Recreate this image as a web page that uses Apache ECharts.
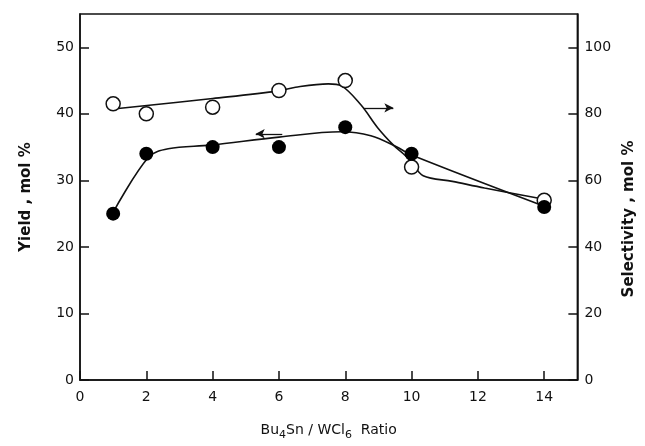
<!DOCTYPE html>
<html>
<head>
<meta charset="utf-8">
<script src="https://cdn.jsdelivr.net/npm/echarts@6/dist/echarts.min.js"></script>
<style>html,body{margin:0;padding:0;background:#fff}#c{width:645px;height:446px}</style>
</head>
<body>
<div id="c"></div>
<script>
// Data
var ratios = [1, 2, 4, 6, 8, 10, 14];
var yieldValues = [25, 34, 35, 35, 38, 34, 26];           // filled circles, left axis (mol %)
var selectivityValues = [83, 80, 82, 87, 90, 64, 54];    // open circles, right axis (mol %)

// Hand-drawn curves: [ratio, value]
var yieldCurve = [[1, 25.2], [2.07, 33.5], [2.66, 34.75], [3.94, 35.3], [6.0, 36.5], [7.88, 37.3], [8.77, 36.7], [9.56, 35.0], [10, 33.8], [14, 26.1]];
var selectivityCurve = [[1.15, 81.6], [4, 84.6], [6, 86.9], [6.5, 88.0], [7.49, 89.0], [7.88, 88.4], [8.47, 82.7], [8.97, 75.9], [9.46, 70.5], [9.75, 68.0], [10.0, 65.5], [10.35, 61.4], [11.23, 59.7], [12.2, 57.7], [14, 54.3]];

// Arrows marking which axis each curve belongs to
var yieldArrow = [[6.1, 37], [5.3, 37]];
var selectivityArrow = [[8.55, 81.8], [9.45, 81.8]];

var xTicks = [0, 2, 4, 6, 8, 10, 12, 14];
var yieldTicks = [0, 10, 20, 30, 40, 50];
var selTicks = [0, 20, 40, 60, 80, 100];

var font = 'DejaVu Sans';
var ink = '#111';

var option = {
  animation: false,
  backgroundColor: '#fff',
  grid: { left: 80, right: 57, top: 14, bottom: 58, show: true, borderColor: ink, borderWidth: 1.5, backgroundColor: 'transparent' },
  xAxis: {
    type: 'value', min: 0, max: 15, interval: 2,
    name: '{n|Bu}{s|4}{n|Sn / WCl}{s|6}{n|  Ratio}',
    nameLocation: 'middle', nameGap: 40,
    nameTextStyle: { rich: { n: { fontFamily: font, fontSize: 14, color: ink }, s: { fontFamily: font, fontSize: 11, color: ink, padding: [10, 0, 0, 0] } } },
    axisLine: { lineStyle: { color: ink, width: 1.5 } },
    axisTick: { inside: true, length: 9, lineStyle: { color: ink, width: 1.5 } },
    axisLabel: { margin: 10, fontFamily: font, fontSize: 14, color: ink, showMaxLabel: false,
      formatter: function (v) { return xTicks.indexOf(v) >= 0 ? String(v) : ''; } },
    splitLine: { show: false }
  },
  yAxis: [{
    type: 'value', min: 0, max: 55, interval: 10, position: 'left',
    name: 'Yield , mol %', nameLocation: 'middle', nameGap: 46, nameRotate: 90,
    nameTextStyle: { fontFamily: font, fontSize: 15, fontWeight: 'bold', color: ink },
    axisLine: { show: true, lineStyle: { color: ink, width: 1.5 } },
    axisTick: { inside: true, length: 9, lineStyle: { color: ink, width: 1.5 } },
    axisLabel: { margin: 6, fontFamily: font, fontSize: 14, color: ink, showMaxLabel: false,
      formatter: function (v) { return yieldTicks.indexOf(v) >= 0 ? String(v) : ''; } },
    splitLine: { show: false }
  }, {
    type: 'value', min: 0, max: 110, interval: 20, position: 'right',
    name: 'Selectivity , mol %', nameLocation: 'middle', nameGap: 42, nameRotate: 90,
    nameTextStyle: { fontFamily: font, fontSize: 15, fontWeight: 'bold', color: ink, padding: [0, 44, 0, 0] },
    axisLine: { show: true, lineStyle: { color: ink, width: 1.5 } },
    axisTick: { inside: true, length: 9, lineStyle: { color: ink, width: 1.5 } },
    axisLabel: { margin: 7, fontFamily: font, fontSize: 14, color: ink, showMaxLabel: false,
      formatter: function (v) { return selTicks.indexOf(v) >= 0 ? String(v) : ''; } },
    splitLine: { show: false }
  }],
  series: [{
    type: 'line', yAxisIndex: 0, data: yieldCurve, smooth: 0.35, showSymbol: false, symbol: 'none',
    lineStyle: { color: ink, width: 1.6 }, z: 2,
    markLine: { silent: true, symbol: ['arrow', 'none'], symbolSize: [7, 9], label: { show: false },
      lineStyle: { color: ink, width: 1.3, type: 'solid' },
      data: [[{ coord: yieldArrow[1] }, { coord: yieldArrow[0] }]] }
  }, {
    type: 'line', yAxisIndex: 1, data: selectivityCurve, smooth: 0.35, showSymbol: false, symbol: 'none',
    lineStyle: { color: ink, width: 1.6 }, z: 2,
    markLine: { silent: true, symbol: ['none', 'arrow'], symbolSize: [7, 9], label: { show: false },
      lineStyle: { color: ink, width: 1.3, type: 'solid' },
      data: [[{ coord: selectivityArrow[0] }, { coord: selectivityArrow[1] }]] }
  }, {
    type: 'scatter', yAxisIndex: 1, data: ratios.map(function (x, i) { return [x, selectivityValues[i]]; }),
    symbol: 'circle', symbolSize: 14, itemStyle: { color: '#fff', borderColor: ink, borderWidth: 1.5, opacity: 1 }, z: 4
  }, {
    type: 'scatter', yAxisIndex: 0, data: ratios.map(function (x, i) { return [x, yieldValues[i]]; }),
    symbol: 'circle', symbolSize: 14, itemStyle: { color: '#000', opacity: 1 }, z: 5
  }]
};
var chart = echarts.init(document.getElementById('c'), null, { renderer: 'canvas' });
chart.setOption(option);
</script>
</body>
</html>
